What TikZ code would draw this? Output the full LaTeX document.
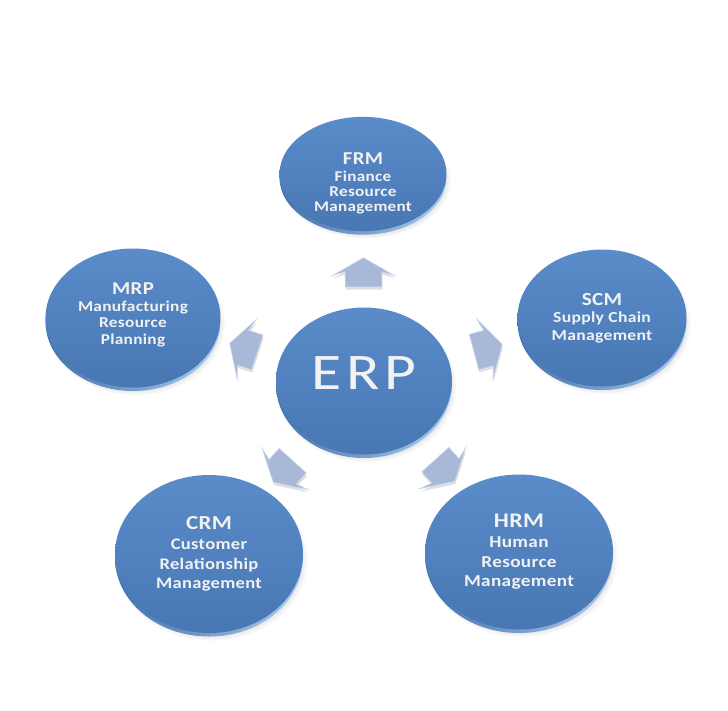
\documentclass[tikz,border=0pt]{standalone}
\usepackage{fontspec}
\usetikzlibrary{shapes,arrows,positioning,calc,shapes.geometric,shadows}
\newfontfamily\discfont{Carlito Bold}[FakeStretch=1.15, LetterSpace=2]
\newfontfamily\erpfont{Carlito}[FakeStretch=1.2, LetterSpace=10]

\definecolor{faceTop}{HTML}{5A8CCA}
\definecolor{faceBottom}{HTML}{4877B3}
\definecolor{rimDark}{HTML}{4271AB}
\definecolor{rimLight}{HTML}{ADCDF0}
\definecolor{arrowFill}{HTML}{A8B9D8}
\definecolor{arrowEdge}{HTML}{CBD6EA}
\definecolor{labelWhite}{HTML}{F2F2F2}

\begin{document}
\begin{tikzpicture}[
    disc/.style={ellipse, inner sep=0pt, top color=faceTop, bottom color=faceBottom,
        text=labelWhite, align=center,
        circular drop shadow={shadow xshift=1.5pt, shadow yshift=-4pt, shadow scale=1.03, opacity=0.35},
        general shadow={shadow yshift=-2.5pt, left color=rimDark, right color=rimLight}},
    flow/.style={single arrow, inner sep=0pt, text height=0.9cm, text width=0.45cm,
        single arrow head extend=0.32cm, single arrow tip angle=120, single arrow head indent=0.1cm,
        fill=arrowFill, draw=arrowEdge, line width=0.4pt,
        drop shadow={shadow xshift=0.5pt, shadow yshift=-2pt, opacity=0.25}}
]
\useasboundingbox (0,0) rectangle (18.2,-17.775);

\node[disc, minimum width=4.4cm, minimum height=3.675cm, text depth=12pt,
    font=\erpfont\fontsize{36.5}{40}\selectfont] (erp) at (9.1,-9.525) {ERP};

\node[disc, minimum width=4.175cm, minimum height=2.75cm,
    font=\discfont\fontsize{10.6}{10.9}\selectfont] (frm) at (9.075,-4.35) {
    {\fontsize{12.9}{13}\selectfont\rule{0pt}{22pt}FRM}\\[1pt]
    Finance\\ Resource\\ Management
};

\node[disc, minimum width=4.375cm, minimum height=3.475cm,
    font=\discfont\fontsize{10.7}{11.7}\selectfont] (mrp) at (3.325,-7.95) {
    {\fontsize{12.9}{13}\selectfont MRP}\\
    Manufacturing\\ Resource\\ Planning\rule[-6pt]{0pt}{6pt}
};

\node[disc, minimum width=4.225cm, minimum height=3.425cm,
    font=\discfont\fontsize{10.9}{12.3}\selectfont] (scm) at (15.05,-7.95) {
    {\fontsize{13.1}{13}\selectfont SCM}\\
    Supply Chain\\ Management
};

\node[disc, minimum width=4.7cm, minimum height=3.95cm,
    font=\discfont\fontsize{11.45}{14}\selectfont] (crm) at (5.225,-13.85) {
    {\fontsize{14.2}{14}\selectfont CRM}\\
    Customer\\ Relationship\\ Management
};

\node[disc, minimum width=4.7cm, minimum height=3.875cm,
    font=\discfont\fontsize{11.9}{14}\selectfont] (hrm) at (12.975,-13.8) {
    {\fontsize{14.8}{14}\selectfont HRM}\\
    Human\\ Resource\\ Management
};

% block arrows from ERP out to each module
\node[flow, rotate=90] (toFRM) at ($(erp)!0.5!(frm)$) {};
\node[flow, rotate=162] (toMRP) at ($(erp)!0.5!(mrp)$) {};
\node[flow, rotate=15] (toSCM) at ($(erp)!0.5!(scm)$) {};
\node[flow, rotate=228] (toCRM) at ($(erp)!0.5!(crm)$) {};
\node[flow, rotate=-48] (toHRM) at ($(erp)!0.5!(hrm)$) {};

\end{tikzpicture}
\end{document}
